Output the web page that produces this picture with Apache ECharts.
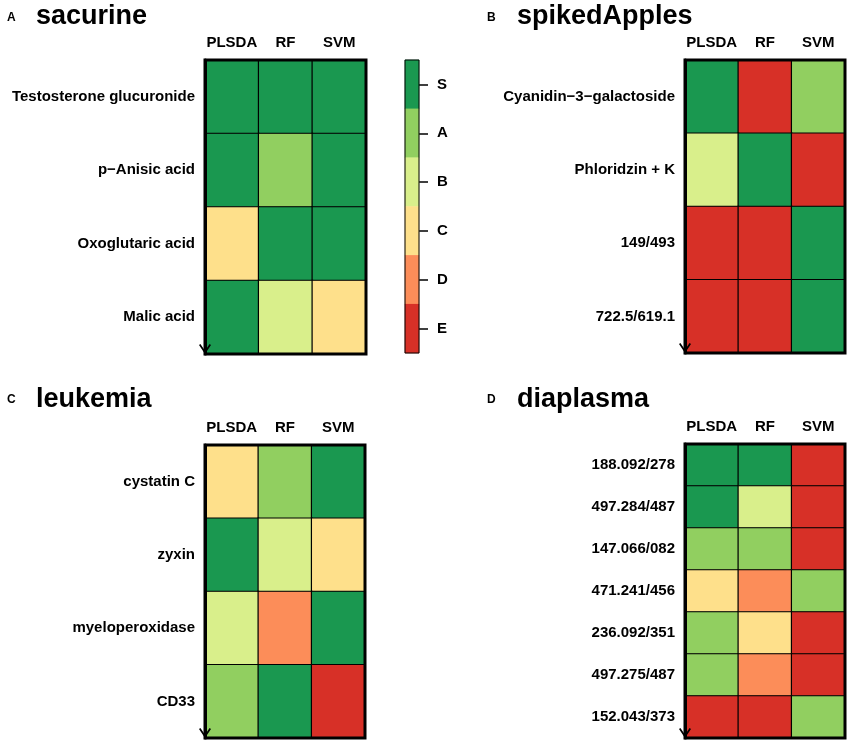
<!DOCTYPE html>
<html><head><meta charset="utf-8">
<script src="https://cdn.jsdelivr.net/npm/echarts@6/dist/echarts.min.js"></script>
<style>html,body{margin:0;padding:0;background:#fff}#c{width:850px;height:743px}</style>
</head><body><div id="c"></div>
<script>
// ---- data ----
const methods = ['PLSDA', 'RF', 'SVM'];
const grades = ['S', 'A', 'B', 'C', 'D', 'E'];
const gradeColors = ['#1A9850', '#91CF60', '#D9EF8B', '#FEE08B', '#FC8D59', '#D73027'];

const sacurineRows = ['Testosterone glucuronide', 'p\u2212Anisic acid', 'Oxoglutaric acid', 'Malic acid'];
const sacurineGrades = [['S','S','S'], ['S','A','S'], ['C','S','S'], ['S','B','C']];

const applesRows = ['Cyanidin\u22123\u2212galactoside', 'Phloridzin + K', '149/493', '722.5/619.1'];
const applesGrades = [['S','E','A'], ['B','S','E'], ['E','E','S'], ['E','E','S']];

const leukemiaRows = ['cystatin C', 'zyxin', 'myeloperoxidase', 'CD33'];
const leukemiaGrades = [['C','A','S'], ['S','B','C'], ['B','D','S'], ['A','S','E']];

const diaplasmaRows = ['188.092/278', '497.284/487', '147.066/082', '471.241/456', '236.092/351', '497.275/487', '152.043/373'];
const diaplasmaGrades = [['S','S','E'], ['S','B','E'], ['A','A','E'], ['C','D','A'], ['A','C','E'], ['A','D','E'], ['E','E','A']];

// ---- build ----
const FONT = "'Liberation Sans', Arial, Helvetica, sans-serif";
const gradeValue = g => grades.length - 1 - grades.indexOf(g);

function cells(rowGrades) {
  const out = [];
  rowGrades.forEach((row, r) => row.forEach((g, c) => out.push([c, r, gradeValue(g)])));
  return out;
}

const panels = [
  { rows: sacurineRows, data: sacurineGrades, grid: { left: 205, top: 60, width: 161, height: 294 } },
  { rows: applesRows, data: applesGrades, grid: { left: 685, top: 60, width: 160, height: 293 } },
  { rows: leukemiaRows, data: leukemiaGrades, grid: { left: 205, top: 445, width: 160, height: 293 } },
  { rows: diaplasmaRows, data: diaplasmaGrades, grid: { left: 685, top: 444, width: 160, height: 294 } }
];

const arrowPath = 'path://M6,0 L12,9 L10.6,10 L6,3.2 L1.4,10 L0,9 Z';

const grids = [], xAxes = [], yAxes = [], series = [];
panels.forEach((p, i) => {
  grids.push(Object.assign({ show: true, borderColor: '#000', borderWidth: 3, backgroundColor: 'transparent', z: 5 }, p.grid));
  xAxes.push({
    type: 'category', gridIndex: i, data: methods, position: 'top',
    axisLine: { show: false }, axisTick: { show: false },
    axisLabel: { interval: 0, fontFamily: FONT, fontWeight: 'bold', fontSize: 15, color: '#000', margin: 10 }
  });
  yAxes.push({
    type: 'category', gridIndex: i, data: p.rows, inverse: true, z: 20,
    axisLine: { show: true, symbol: [arrowPath, 'none'], symbolSize: [12, 10], symbolOffset: [5, 0], lineStyle: { color: '#000', width: 3 } },
    axisTick: { show: false },
    axisLabel: { interval: 0, fontFamily: FONT, fontWeight: 'bold', fontSize: 15, color: '#000', margin: 10 }
  });
  series.push({
    type: 'heatmap', xAxisIndex: i, yAxisIndex: i, data: cells(p.data),
    itemStyle: { borderColor: '#000', borderWidth: 1.2 },
    emphasis: { disabled: true }
  });
});

// colour key
grids.push({ left: 405, top: 60, width: 14, height: 293, show: true, borderColor: '#000', borderWidth: 1, z: 5, backgroundColor: 'transparent' });
xAxes.push({ type: 'category', gridIndex: 4, data: [''], show: false });
yAxes.push({
  type: 'category', gridIndex: 4, data: grades, inverse: true, position: 'right',
  axisLine: { show: false },
  axisTick: { show: true, length: 9, alignWithLabel: true, lineStyle: { color: '#000', width: 1.5 } },
  axisLabel: { interval: 0, fontFamily: FONT, fontWeight: 'bold', fontSize: 15, color: '#000', margin: 18 }
});
series.push({
  type: 'heatmap', xAxisIndex: 4, yAxisIndex: 4,
  data: grades.map((g, k) => [0, k, gradeValue(g)]),
  emphasis: { disabled: true }
});

const titleStyle = big => ({ fontFamily: FONT, fontWeight: 'bold', color: '#000', fontSize: big ? 27 : 12 });
const titles = [
  { text: 'A', left: 7, top: 12, textStyle: titleStyle(false) },
  { text: 'sacurine', left: 36, top: 3, textStyle: titleStyle(true) },
  { text: 'B', left: 487, top: 12, textStyle: titleStyle(false) },
  { text: 'spikedApples', left: 517, top: 3, textStyle: titleStyle(true) },
  { text: 'C', left: 7, top: 394, textStyle: titleStyle(false) },
  { text: 'leukemia', left: 36, top: 386, textStyle: titleStyle(true) },
  { text: 'D', left: 487, top: 394, textStyle: titleStyle(false) },
  { text: 'diaplasma', left: 517, top: 386, textStyle: titleStyle(true) }
].map(t => Object.assign({ padding: 0 }, t));

const chart = echarts.init(document.getElementById('c'), null, { renderer: 'canvas' });
chart.setOption({
  animation: false,
  backgroundColor: '#fff',
  title: titles,
  grid: grids,
  xAxis: xAxes,
  yAxis: yAxes,
  visualMap: {
    type: 'piecewise', show: false, dimension: 2,
    pieces: grades.map((g, k) => ({ value: gradeValue(g), color: gradeColors[k] }))
  },
  series: series
});
</script></body></html>
